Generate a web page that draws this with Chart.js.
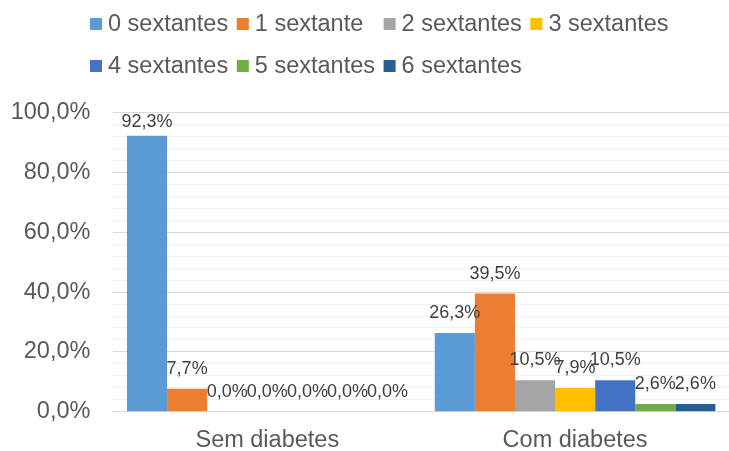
<!DOCTYPE html>
<html>
<head>
<meta charset="utf-8">
<script src="https://cdn.jsdelivr.net/npm/chart.js@4.4.1/dist/chart.umd.min.js"></script>
<style>
html,body{margin:0;padding:0;background:#fff;}
#wrap{width:729px;height:451px;}
</style>
</head>
<body>
<div id="wrap"><canvas id="c" width="729" height="451"></canvas></div>
<script>
const categories = ['Sem diabetes', 'Com diabetes'];
const seriesNames = ['0 sextantes', '1 sextante', '2 sextantes', '3 sextantes', '4 sextantes', '5 sextantes', '6 sextantes'];
const seriesColors = ['#5B9BD5', '#ED7D31', '#A5A5A5', '#FFC000', '#4472C4', '#70AD47', '#255E91'];
const s0 = [92.3, 26.3];
const s1 = [7.7, 39.5];
const s2 = [0.0, 10.5];
const s3 = [0.0, 7.9];
const s4 = [0.0, 10.5];
const s5 = [0.0, 2.6];
const s6 = [0.0, 2.6];
const seriesValues = [s0, s1, s2, s3, s4, s5, s6];
const yTickLabels = ['0,0%', '20,0%', '40,0%', '60,0%', '80,0%', '100,0%'];

const FONT = '"Liberation Sans", Arial, sans-serif';
const fmt = v => v.toFixed(1).replace('.', ',') + '%';

const dataLabels = {
  id: 'dataLabels',
  afterDatasetsDraw(chart) {
    const ctx = chart.ctx;
    const top = chart.chartArea.top;
    ctx.save();
    ctx.font = '18px ' + FONT;
    ctx.fillStyle = '#404040';
    ctx.textAlign = 'center';
    ctx.textBaseline = 'middle';
    chart.data.datasets.forEach((ds, i) => {
      const meta = chart.getDatasetMeta(i);
      meta.data.forEach((bar, j) => {
        const y = Math.max(bar.y - 20, top + 9);
        ctx.fillText(fmt(ds.data[j]), bar.x, y);
      });
    });
    ctx.restore();
  }
};

const customLegend = {
  id: 'customLegend',
  afterDraw(chart) {
    const ctx = chart.ctx;
    ctx.save();
    ctx.font = '23.5px ' + FONT;
    ctx.textBaseline = 'middle';
    ctx.textAlign = 'left';
    const x0 = 90, colW = 146.8, rowY = [24, 66], box = 12;
    chart.data.datasets.forEach((ds, i) => {
      const r = Math.floor(i / 4), c = i % 4;
      const x = x0 + c * colW, y = rowY[r];
      ctx.fillStyle = ds.backgroundColor;
      ctx.fillRect(x, y - box / 2, box, box);
      ctx.fillStyle = '#595959';
      ctx.fillText(ds.label, x + box + 6, y + 1);
    });
    ctx.restore();
  }
};

new Chart(document.getElementById('c'), {
  type: 'bar',
  data: {
    labels: categories,
    datasets: seriesNames.map((n, i) => ({
      label: n,
      data: seriesValues[i],
      backgroundColor: seriesColors[i],
      borderWidth: 0,
      barPercentage: 1.0,
      categoryPercentage: 0.9117
    }))
  },
  options: {
    responsive: false,
    animation: false,
    layout: { padding: { top: 112.7, left: 0, right: 0, bottom: 0 } },
    plugins: {
      legend: { display: false },
      tooltip: { enabled: false }
    },
    scales: {
      x: {
        grid: { display: false, drawTicks: false },
        border: { display: true, color: '#d9d9d9', width: 1 },
        ticks: { color: '#595959', font: { family: FONT, size: 23.5 }, padding: 15, maxRotation: 0 },
        afterFit(s) { s.height = 39.3; }
      },
      y: {
        min: 0, max: 100,
        grid: {
          drawTicks: false,
          color: ctx => (ctx.tick && ctx.tick.value % 20 === 0) ? '#d9d9d9' : '#f0f0f0',
          lineWidth: 1
        },
        border: { display: false },
        ticks: {
          stepSize: 4,
          autoSkip: false,
          color: '#595959',
          font: { family: FONT, size: 23.5 },
          padding: 23,
          callback: v => (v % 20 === 0 ? yTickLabels[v / 20] : '')
        },
        afterFit(s) { s.width = 113.4; }
      }
    }
  },
  plugins: [dataLabels, customLegend]
});
</script>
</body>
</html>
